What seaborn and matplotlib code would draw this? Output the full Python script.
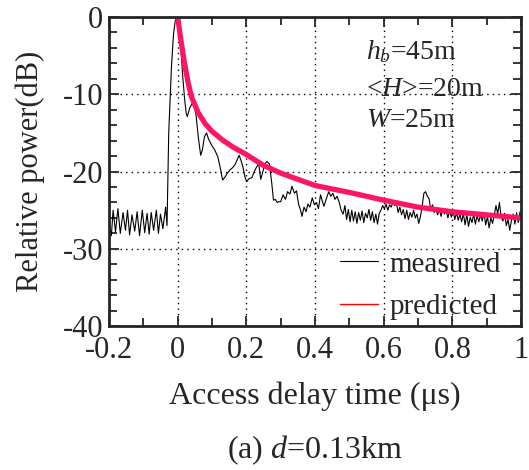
import numpy as np
import pandas as pd
import matplotlib
matplotlib.use("Agg")
import matplotlib.pyplot as plt
import seaborn as sns
from matplotlib.lines import Line2D
from matplotlib.ticker import MultipleLocator

sns.set_style("ticks")
plt.rcParams['font.family'] = ['Liberation Serif', 'DejaVu Serif']
plt.rcParams['mathtext.fontset'] = 'custom'
plt.rcParams['mathtext.rm'] = 'Liberation Serif'
plt.rcParams['mathtext.it'] = 'Liberation Serif:italic'
plt.rcParams['axes.unicode_minus'] = False

# measured delay profile
meas_t = [-0.200, -0.193, -0.188, -0.181, -0.174, -0.167, -0.159, -0.152, -0.146, -0.140,
          -0.133, -0.125, -0.118, -0.111, -0.103, -0.096, -0.089, -0.083, -0.077, -0.070,
          -0.062, -0.056, -0.050, -0.043, -0.035, -0.031, -0.026, -0.018, -0.012, -0.006,
          0.000, 0.005, 0.010, 0.015, 0.020, 0.025, 0.028, 0.035, 0.042, 0.048,
          0.053, 0.060, 0.067, 0.072, 0.078, 0.084, 0.090, 0.099, 0.108, 0.117,
          0.124, 0.131, 0.138, 0.145, 0.152, 0.160, 0.167, 0.173, 0.179, 0.184,
          0.190, 0.196, 0.201, 0.208, 0.216, 0.223, 0.230, 0.236, 0.242, 0.247,
          0.254, 0.260, 0.267, 0.274, 0.279, 0.284, 0.290, 0.294,
          0.300, 0.307, 0.314, 0.320, 0.327, 0.333, 0.340, 0.346, 0.352, 0.358,
          0.362, 0.368, 0.374, 0.379, 0.385, 0.392, 0.398, 0.404, 0.410, 0.416,
          0.421, 0.426, 0.433, 0.440, 0.446, 0.452, 0.458, 0.464, 0.470, 0.476,
          0.482, 0.487, 0.492, 0.497, 0.502, 0.507, 0.512, 0.517, 0.522, 0.527,
          0.532, 0.537, 0.542, 0.547, 0.552, 0.557, 0.562, 0.567, 0.572, 0.577,
          0.582, 0.587, 0.592, 0.597, 0.602, 0.607, 0.612, 0.617, 0.622, 0.627,
          0.632, 0.637, 0.642, 0.647, 0.652, 0.657, 0.662, 0.667, 0.672, 0.677,
          0.682, 0.687, 0.692, 0.697, 0.702, 0.707, 0.712, 0.717, 0.722, 0.727,
          0.732, 0.737, 0.742, 0.747, 0.752, 0.757, 0.762, 0.767, 0.772, 0.777,
          0.782, 0.787, 0.792, 0.797, 0.802, 0.807, 0.812, 0.817, 0.822, 0.827,
          0.832, 0.837, 0.842, 0.847, 0.852, 0.857, 0.862, 0.867, 0.872, 0.877,
          0.882, 0.887, 0.892, 0.897, 0.902, 0.907, 0.912, 0.917, 0.922, 0.927,
          0.932, 0.937, 0.942, 0.947, 0.952, 0.957, 0.962, 0.967, 0.972, 0.977,
          0.982, 0.987, 0.992, 0.997, 1.000]
meas_db = [-26.5, -28.3, -25.0, -27.8, -24.8, -28.0, -25.3, -27.6, -25.0, -28.2,
           -25.6, -27.7, -25.2, -28.3, -25.0, -27.9, -25.4, -28.1, -25.3, -27.6,
           -25.0, -28.0, -25.5, -27.4, -24.6, -27.0, -15.0, -6.4, -2.2, -0.2,
           0.0, -1.5, -4.5, -7.8, -10.5, -12.5, -12.9, -11.8, -11.2, -11.6,
           -12.5, -15.5, -17.9, -17.2, -15.5, -15.0, -15.8, -16.6, -17.2, -18.1,
           -19.5, -21.1, -20.7, -20.2, -19.8, -19.5, -19.1, -18.5, -17.9, -18.5,
           -19.4, -20.7, -21.3, -20.9, -20.8, -20.0, -19.4, -19.0, -21.0, -20.2,
           -19.0, -18.7, -19.0, -21.5, -23.7, -23.6, -24.0, -23.9,
           -23.9, -23.0, -23.6, -22.6, -22.9, -21.9, -22.8, -22.5, -24.2, -25.0,
           -25.8, -24.6, -25.2, -24.2, -24.6, -23.4, -24.3, -24.0, -24.8, -23.0,
           -23.8, -24.5, -23.5, -22.6, -23.2, -22.8, -23.6, -23.2, -23.9, -25.0,
           -25.5, -24.4, -26.2, -24.9, -26.5, -25.0, -26.4, -25.2, -26.7, -25.3,
           -26.3, -25.1, -26.6, -25.4, -26.0, -24.9, -26.3, -25.2, -26.6, -25.5,
           -26.8, -25.4, -25.0, -24.4, -24.8, -24.2, -25.0, -24.3, -24.6, -23.9,
           -24.4, -24.0, -25.3, -24.6, -25.6, -24.9, -26.1, -25.0, -26.2, -25.3,
           -25.9, -25.0, -26.0, -25.5, -26.7, -25.8, -24.5, -22.8, -22.6, -23.2,
           -23.5, -24.9, -24.3, -25.3, -24.8, -25.6, -24.9, -25.8, -24.8, -25.5,
           -25.0, -26.0, -25.0, -25.9, -25.1, -26.2, -25.3, -26.3, -25.5, -26.5,
           -25.4, -26.9, -25.6, -27.1, -25.9, -26.6, -25.5, -26.8, -25.7, -26.5,
           -25.6, -26.4, -25.3, -26.9, -25.8, -27.3, -26.0, -26.7, -25.6, -24.4,
           -25.5, -24.0, -25.9, -26.4, -25.4, -27.0, -26.2, -27.6, -26.3, -25.5,
           -26.8, -25.3, -26.6, -25.2, -25.6]

# predicted profile
pred_t = [0.0, 0.005, 0.01, 0.02, 0.03, 0.04, 0.06, 0.08, 0.10, 0.13, 0.16, 0.20,
          0.25, 0.30, 0.40, 0.50, 0.60, 0.70, 0.80, 0.90, 1.00]
pred_db = [0.0, -1.6, -3.2, -6.0, -8.4, -10.3, -12.4, -13.8, -14.8, -15.9, -16.8, -17.8,
           -19.2, -20.2, -21.8, -22.7, -23.7, -24.6, -25.2, -25.6, -26.0]

meas = pd.DataFrame({"t": meas_t, "db": meas_db})
pred = pd.DataFrame({"t": pred_t, "db": pred_db})

fig = plt.figure(figsize=(5.29, 4.70), dpi=100)
ax = fig.add_axes([0.206, 0.306, 0.779, 0.658])

sns.lineplot(data=meas, x="t", y="db", ax=ax, color="black", lw=0.8, estimator=None)
sns.lineplot(data=pred, x="t", y="db", ax=ax, color="#ff1565", lw=3.8, estimator=None)

ax.set_xlim(-0.2, 1.0)
ax.set_ylim(-40, 0)
ax.xaxis.set_minor_locator(MultipleLocator(0.1))
ax.yaxis.set_major_locator(MultipleLocator(10))
ax.yaxis.set_minor_locator(MultipleLocator(2))
ax.set_xticks([-0.2, 0, 0.2, 0.4, 0.6, 0.8, 1.0])
ax.set_xticklabels(["-0.2", "0", "0.2", "0.4", "0.6", "0.8", "1"])
ax.grid(True, which="major", color="black", ls=(0, (1, 3)), lw=1.0)
ax.tick_params(which="both", direction="in", top=True, right=True, width=1.3,
               labelsize=22)
ax.tick_params(axis="x", pad=7)
ax.tick_params(axis="y", pad=4)
ax.tick_params(which="major", length=7)
ax.tick_params(which="minor", length=6)
for s in ax.spines.values():
    s.set_linewidth(2.0)

ax.set_xlabel("Access delay time (\u03bcs)", fontsize=23, labelpad=12)
ax.set_ylabel("Relative power(dB)", fontsize=22, labelpad=13)

ax.text(0.548, -5.4, "$h_b$=45m", fontsize=20)
ax.text(0.548, -10.2, "<$H$>=20m", fontsize=20)
ax.text(0.548, -14.2, "$W$=25m", fontsize=20)

handles = [Line2D([], [], color="black", lw=0.8),
           Line2D([], [], color="red", lw=1.0)]
ax.legend(handles, ["measured", "predicted"], loc="lower left",
          bbox_to_anchor=(0.56, 0.02), frameon=False, fontsize=21,
          borderpad=0, borderaxespad=0,
          handlelength=1.3, handletextpad=0.4, labelspacing=0.55)

fig.text(0.595, 0.025, "(a) $d$=0.13km", ha="center", fontsize=23)

fig.savefig("out.png", dpi=100)
